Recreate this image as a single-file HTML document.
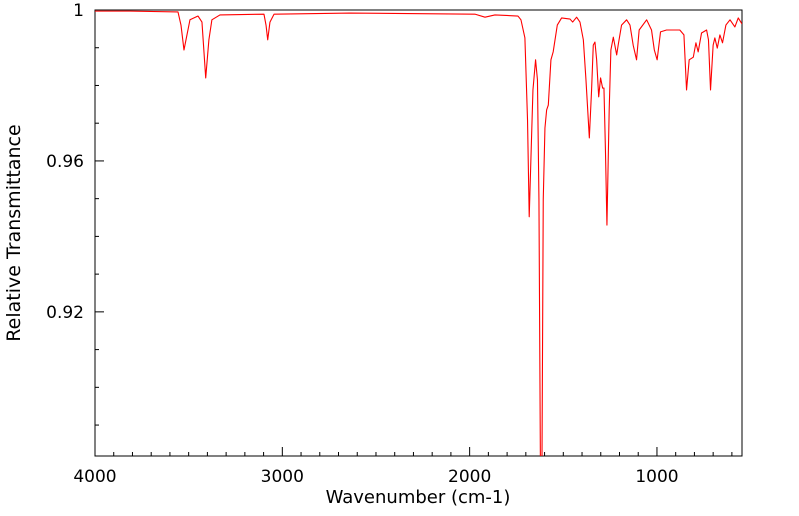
<!DOCTYPE html>
<html><head><meta charset="utf-8"><style>
html,body{margin:0;padding:0;background:#fff;}
svg{display:block;font-family:"DejaVu Sans","Liberation Sans",sans-serif;}
</style></head><body>
<svg id="chart" width="799" height="516" viewBox="0 0 799 516" xmlns="http://www.w3.org/2000/svg">
<defs><clipPath id="plotclip"><rect x="95" y="10" width="647" height="446"/></clipPath></defs>
<g id="axes"></g>
<g id="series" clip-path="url(#plotclip)"></g>
<text x="418" y="503" font-size="18" text-anchor="middle">Wavenumber (cm-1)</text>
<text x="20" y="233" font-size="19" text-anchor="middle" transform="rotate(-90 20 233)">Relative Transmittance</text>
</svg>
<script>
const wavenumbers = [4000,3813,3557,3541,3525,3509,3493,3450,3429,3409,3392,3376,3333,3098,3087,3078,3066,3044,2639,1972,1918,1865,1742,1726,1705,1691,1682,1673,1662,1648,1638,1630,1622,1614,1607,1598,1589,1580,1566,1554,1532,1509,1464,1450,1429,1411,1393,1379,1361,1349,1340,1331,1322,1311,1301,1290,1283,1275,1267,1255,1246,1233,1215,1207,1189,1162,1144,1127,1109,1095,1055,1029,1014,999,981,949,878,856,842,828,806,792,780,762,735,725,714,700,691,678,664,650,632,610,584,566,546];
const transmittance = [0.9997,0.9997,0.9995,0.996,0.9894,0.9934,0.9974,0.9984,0.9968,0.9820,0.9921,0.9974,0.9987,0.9989,0.996,0.9921,0.9968,0.9989,0.9992,0.9989,0.9981,0.9987,0.9984,0.9974,0.9926,0.9709,0.9452,0.9603,0.9788,0.9868,0.9815,0.9497,0.878,0.878,0.9497,0.9687,0.9735,0.9748,0.9868,0.9889,0.9960,0.9979,0.9976,0.9968,0.9981,0.9968,0.9921,0.9815,0.9661,0.9788,0.9907,0.9915,0.9868,0.9770,0.9820,0.9793,0.9793,0.9629,0.9430,0.9735,0.9894,0.9928,0.9881,0.9907,0.9960,0.9974,0.9960,0.9907,0.9868,0.9947,0.9974,0.9947,0.9894,0.9868,0.9942,0.9947,0.9947,0.9934,0.9788,0.9868,0.9875,0.9913,0.9889,0.9939,0.9947,0.9921,0.9788,0.9907,0.9926,0.9899,0.9934,0.9913,0.9960,0.9974,0.9955,0.9979,0.9963];
const xTickValues = [4000,3000,2000,1000];
const xTickLabels = ["4000","3000","2000","1000"];
const yTickValues = [1,0.96,0.92];
const yTickLabels = ["1","0.96","0.92"];

const L=95,R=742,T=10,B=456;
const xMin=546,xMax=4000,yMin=0.8818,yMax=1;
const xs=v=>L+(xMax-v)/(xMax-xMin)*(R-L);
const ys=v=>T+(yMax-v)/(yMax-yMin)*(B-T);
const NS="http://www.w3.org/2000/svg";
function mk(tag,attrs,parent){const e=document.createElementNS(NS,tag);for(const k in attrs)e.setAttribute(k,attrs[k]);parent.appendChild(e);return e;}
const axes=document.getElementById('axes');
const frame=mk('rect',{x:L,y:T,width:R-L,height:B-T,fill:'none',stroke:'#000','stroke-width':1},axes);


for(let v=4000;v>=xMin;v-=100){
  const major=v%1000===0;
  const t=mk('line',{x1:xs(v),x2:xs(v),y1:B,y2:B-(major?9:4),stroke:'#000','stroke-width':1},axes);
  
  
}
xTickValues.forEach((v,i)=>{
  const t=mk('text',{x:xs(v),y:482,'font-size':17,'text-anchor':'middle'},axes);
  t.textContent=xTickLabels[i];
  
  
});
for(let k=0;k<=11;k++){
  const v=1-k*0.01;
  if(v<yMin)break;
  const major=k%4===0;
  const t=mk('line',{x1:L,x2:L+(major?9:4),y1:ys(v),y2:ys(v),stroke:'#000','stroke-width':1},axes);
  
  
}
yTickValues.forEach((v,i)=>{
  const t=mk('text',{x:84,y:ys(v)+6,'font-size':17,'text-anchor':'end'},axes);
  t.textContent=yTickLabels[i];
  
  
});
const pts=wavenumbers.map((w,i)=>xs(w).toFixed(2)+','+ys(transmittance[i]).toFixed(2)).join(' ');
const line=mk('polyline',{points:pts,fill:'none',stroke:'#ff0000','stroke-width':1.1,'stroke-linejoin':'round'},document.getElementById('series'));


</script>
</body></html>
